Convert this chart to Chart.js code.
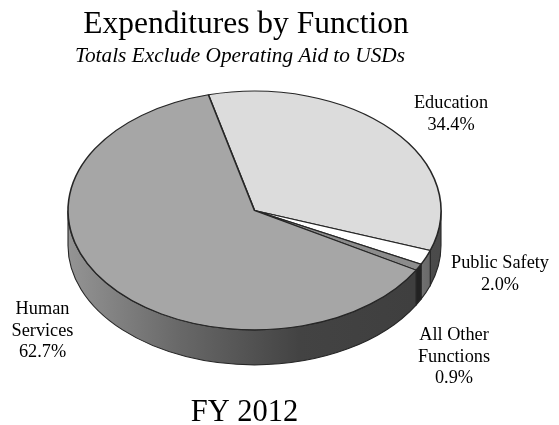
<!DOCTYPE html>
<html>
<head>
<meta charset="utf-8">
<title>Expenditures by Function</title>
<script src="https://cdn.jsdelivr.net/npm/chart.js@4"></script>
<style>
    html, body { margin: 0; padding: 0; background: #fff; }
    canvas { display: block; }
</style>
</head>
<body>
<canvas id="pieChart" width="559" height="425"></canvas>
<script>
// Chart data
const categories = ['Education', 'Public Safety', 'All Other Functions', 'Human Services'];
const shares = [34.4, 2.0, 0.9, 62.7];
const sliceColors = ['#dcdcdc', '#ffffff', '#8c8c8c', '#a6a6a6'];

// Label lines, one list per slice
const labelLines = [['Education'], ['Public Safety'], ['All Other', 'Functions'], ['Human', 'Services']];
const labelAnchors = [[451, 108], [500, 268], [454, 340], [42.5, 314]];

// Tilted look of the pie
const squash = 0.64;
const depth = 35;
const lineColor = '#262626';

// Side wall shading per slice, left to right across the pie
const wallStops = [
    [[0, '#5a5a5a'], [1, '#4a4a4a']],
    [[0, '#666666'], [0.93, '#767676'], [0.98, '#666666'], [1, '#666666']],
    [[0, '#222222'], [1, '#222222']],
    [[0, '#949494'], [0.3, '#686868'], [0.62, '#434343'], [1, '#3e3e3e']]
];

// Draws the pie's side wall under the slices, then flattens the slices into an ellipse
const tiltPlugin = {
    id: 'tilt',
    beforeDatasetsDraw(chart) {
        const ctx = chart.ctx;
        const arcs = chart.getDatasetMeta(0).data;
        arcs.forEach((arc, i) => {
            // only the part of a slice facing the viewer has a visible wall
            const from = Math.max(arc.startAngle, 0);
            const to = Math.min(arc.endAngle, Math.PI);
            if (to > from) {
                const rx = arc.outerRadius;
                const ry = rx * squash;
                const shade = ctx.createLinearGradient(arc.x - rx, 0, arc.x + rx, 0);
                wallStops[i].forEach(stop => shade.addColorStop(stop[0], stop[1]));
                ctx.beginPath();
                ctx.ellipse(arc.x, arc.y, rx, ry, 0, from, to);
                ctx.ellipse(arc.x, arc.y + depth, rx, ry, 0, to, from, true);
                ctx.closePath();
                ctx.fillStyle = shade;
                ctx.fill();
                ctx.strokeStyle = lineColor;
                ctx.lineWidth = 1.1;
                ctx.stroke();
            }
        });
        const first = arcs[0];
        ctx.save();
        ctx.translate(first.x, first.y);
        ctx.scale(1, squash);
        ctx.translate(-first.x, -first.y);
    },
    afterDatasetsDraw(chart) {
        chart.ctx.restore();
    }
};

// Title, subtitle, slice labels and the year
const textPlugin = {
    id: 'pieText',
    afterDraw(chart) {
        const ctx = chart.ctx;
        ctx.save();
        ctx.fillStyle = '#000';
        ctx.textAlign = 'center';
        ctx.font = '31.5px "Liberation Serif"';
        ctx.fillText('Expenditures by Function', 246, 33);
        ctx.font = 'italic 21.3px "Liberation Serif"';
        ctx.fillText('Totals Exclude Operating Aid to USDs', 240, 62);
        ctx.font = '18.3px "Liberation Serif"';
        categories.forEach((name, i) => {
            const lines = labelLines[i].concat(shares[i].toFixed(1) + '%');
            lines.forEach((line, n) => {
                ctx.fillText(line, labelAnchors[i][0], labelAnchors[i][1] + n * 21.5);
            });
        });
        ctx.font = '30.5px "Liberation Serif"';
        ctx.fillText('FY 2012', 244.5, 421);
        ctx.restore();
    }
};

new Chart(document.getElementById('pieChart').getContext('2d'), {
    type: 'pie',
    data: {
        labels: categories,
        datasets: [{
            data: shares,
            backgroundColor: sliceColors,
            borderColor: lineColor,
            borderWidth: 1.6,
            clip: false
        }]
    },
    options: {
        responsive: false,
        animation: false,
        rotation: -14.3,
        radius: 186.5,
        layout: { padding: { right: 50, bottom: 4 } },
        plugins: {
            legend: { display: false },
            title: { display: false },
            tooltip: { enabled: false }
        }
    },
    plugins: [tiltPlugin, textPlugin]
});
</script>
</body>
</html>
